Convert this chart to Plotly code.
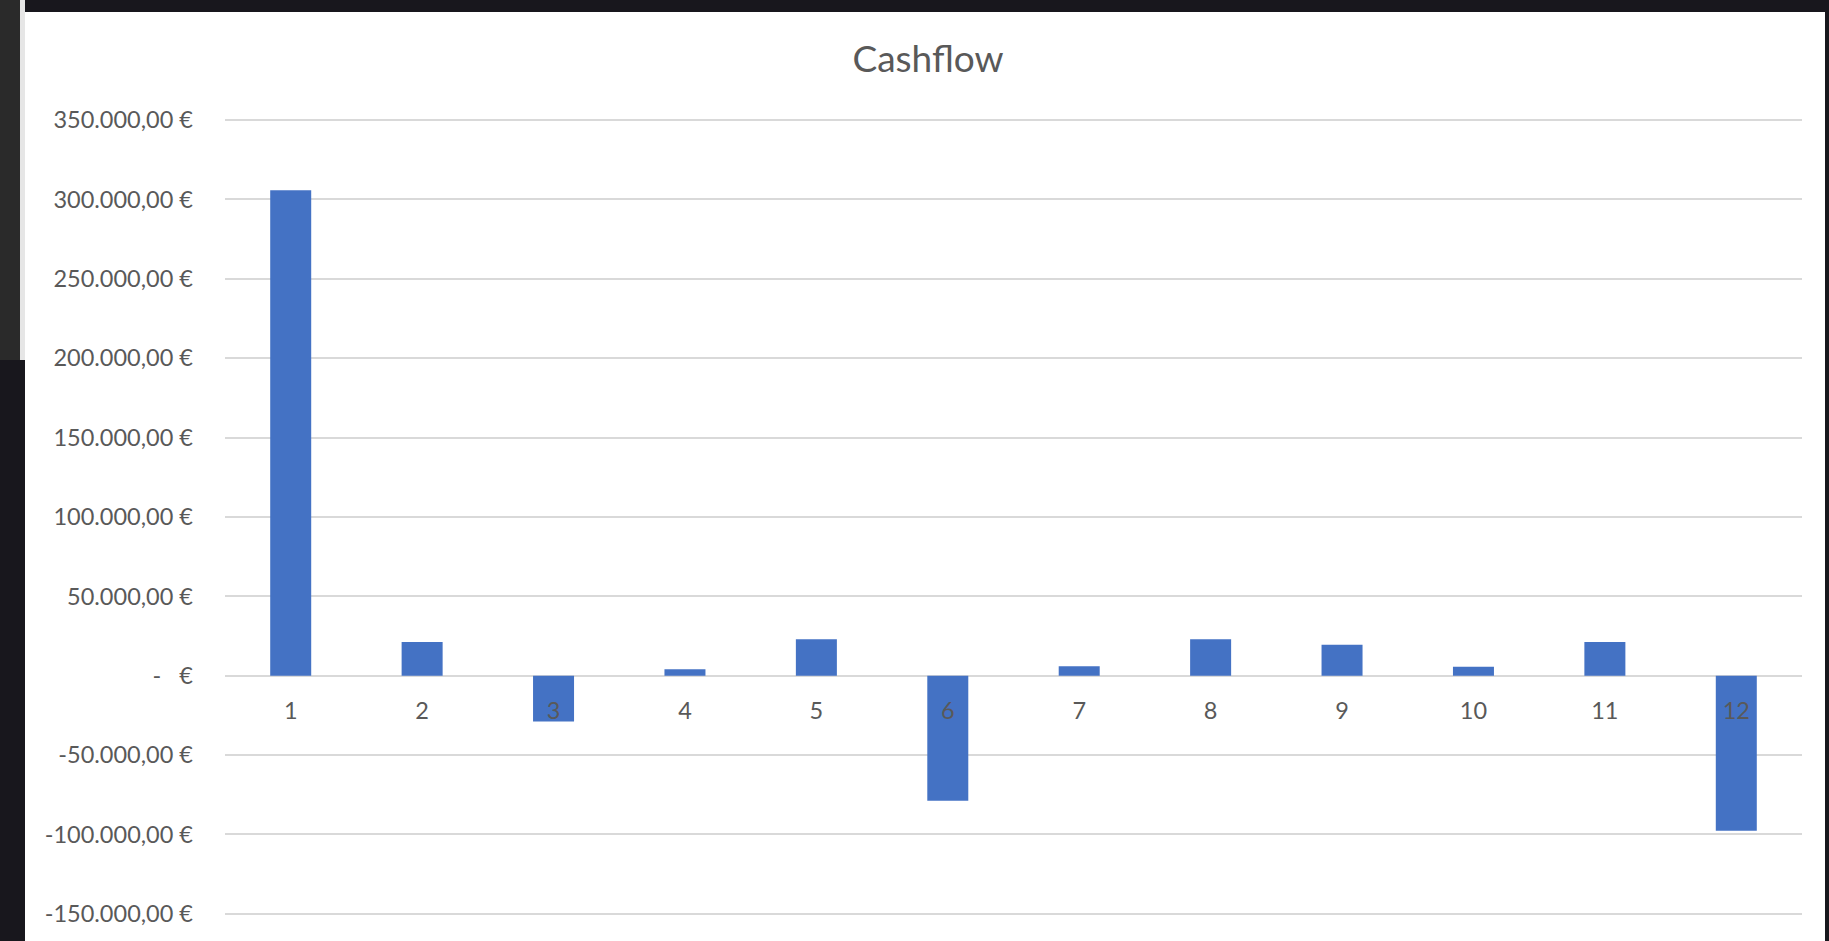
import plotly.graph_objects as go

# ---- data ----
periods = ["1", "2", "3", "4", "5", "6", "7", "8", "9", "10", "11", "12"]
cashflow = [305800, 21200, -28800, 4000, 22900, -78700, 5900, 22900, 19500, 5700, 21200, -97600]
ytick_vals = [-150000, -100000, -50000, 0, 50000, 100000, 150000, 200000, 250000, 300000, 350000]
ytick_text = ["-150.000,00 €", "-100.000,00 €", "-50.000,00 €", "-\u00a0\u00a0\u00a0€",
              "50.000,00 €", "100.000,00 €", "150.000,00 €", "200.000,00 €",
              "250.000,00 €", "300.000,00 €", "350.000,00 €"]
title_text = "Cashflow"

W, H = 1829, 941
ML, MR, MT, MB = 225, 27, 117, 24
PW, PH = W - ML - MR, H - MT - MB
Y_TOP, Y_BOT = 351890, -151980


def px_x(p):
    return (p - ML) / PW


def px_y(p):
    return (H - MB - p) / PH


zero_frac = (0 - Y_BOT) / (Y_TOP - Y_BOT)

fig = go.Figure(go.Bar(
    x=periods, y=cashflow,
    marker=dict(color="#4472C4", line=dict(width=0)),
    hoverinfo="skip",
))

grey = "#595959"
fig.update_layout(
    width=W, height=H,
    margin=dict(l=ML, r=MR, t=MT, b=MB, pad=0),
    paper_bgcolor="#18171d",
    plot_bgcolor="rgba(0,0,0,0)",
    bargap=0.688,
    showlegend=False,
    font=dict(family="Lato, 'Open Sans', sans-serif", color=grey),
    title=dict(text=title_text, xref="container", x=928 / W, xanchor="center",
               yref="container", y=1 - 59 / H, yanchor="middle",
               font=dict(size=37, color=grey, family="Lato, sans-serif")),
    xaxis=dict(type="category", anchor="free", position=zero_frac,
               showgrid=False, showline=False, zeroline=False,
               ticks="", ticklabelstandoff=19,
               tickfont=dict(size=23.5, color=grey)),
    yaxis=dict(range=[Y_BOT, Y_TOP], tickmode="array",
               tickvals=ytick_vals, ticktext=ytick_text,
               showgrid=True, gridcolor="#d9d9d9", gridwidth=1.5,
               zeroline=True, zerolinecolor="#d9d9d9", zerolinewidth=1.5,
               showline=False, ticks="", ticklabelstandoff=31,
               tickfont=dict(size=23.5, color=grey)),
    shapes=[
        dict(type="rect", xref="paper", yref="paper", layer="below",
             x0=px_x(25), x1=px_x(1825), y0=px_y(960), y1=px_y(12),
             fillcolor="#ffffff", line=dict(width=0)),
        dict(type="rect", xref="paper", yref="paper", layer="below",
             x0=px_x(20), x1=px_x(25), y0=px_y(360), y1=px_y(-5),
             fillcolor="#e6e6e6", line=dict(width=0)),
        dict(type="rect", xref="paper", yref="paper", layer="below",
             x0=px_x(-5), x1=px_x(20), y0=px_y(360), y1=px_y(-5),
             fillcolor="#2a2a2a", line=dict(width=0)),
    ],
)

fig.write_html("out.html", config={"displayModeBar": False},
               post_script="document.body.style.margin='0';document.body.style.overflow='hidden';")
